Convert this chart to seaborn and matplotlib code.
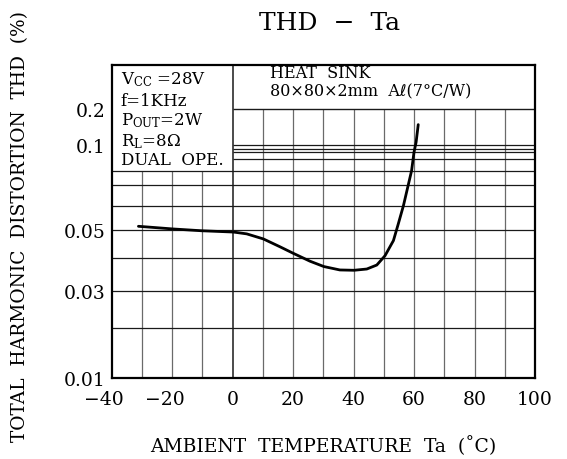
import numpy as np
import pandas as pd
import matplotlib
matplotlib.use("Agg")
import matplotlib.pyplot as plt
import matplotlib.transforms as mtransforms
import seaborn as sns

# ---------------- data ----------------
ta = [-31.1, -19.8, -10.2, 0.3, 4.7, 10.2, 15.7, 20.1, 25.6, 30.2, 35.5, 40.2,
      44.4, 47.7, 50.4, 53.2, 54.8, 56.5, 58.1, 59.2, 60.0, 60.7, 61.4]
thd = [0.0514, 0.0504, 0.0497, 0.0492, 0.0485, 0.0466, 0.0438, 0.0416, 0.0390,
       0.0372, 0.0361, 0.0360, 0.0364, 0.0377, 0.0408, 0.0460, 0.0523, 0.0599,
       0.0700, 0.0800, 0.0947, 0.1052, 0.1477]

x_ticks = [-40, -20, 0, 20, 40, 60, 80, 100]
x_tick_labels = ["\u221240", "\u221220", "0", "20", "40", "60", "80", "100"]
y_ticks = [0.01, 0.03, 0.05, 0.1, 0.2]
y_tick_labels = ["0.01", "0.03", "0.05", "0.1", "0.2"]

# grid lines of the printed chart sheet
grid_x_left = [-30, -20, -10]
grid_x_right = [10, 20, 30, 40, 50, 60, 70, 80, 90]
grid_y_full = [0.02, 0.03, 0.04, 0.05, 0.06, 0.07, 0.08]
grid_y_right = [0.09, 0.095, 0.097, 0.1]

# the scanned sheet's (non-uniform) vertical scale: value -> relative height
scale_vals = [0.01, 0.02, 0.03, 0.04, 0.05, 0.06, 0.07, 0.08, 0.09, 0.1, 0.2, 0.3]
scale_h = [0, 50, 87, 119.7, 148, 172.5, 193, 207.3, 218.7, 233.3, 269, 313.5]

cond_lines = ["V$_{\\mathrm{CC}}$ =28V", "f=1KHz", "P$_{\\mathrm{OUT}}$=2W",
              "R$_{\\mathrm{L}}$=8\u03a9", "DUAL  OPE."]
heat_lines = ["HEAT  SINK", "80\u00d780\u00d72mm  A\u2113(7\u00b0C/W)"]

# ---------------- style ----------------
sns.set_theme(style="white")
plt.rcParams["font.family"] = ["DejaVu Serif", "DejaVu Sans"]
plt.rcParams["mathtext.fontset"] = "dejavuserif"

log_knots = np.log10(scale_vals)


def fwd(v):
    v = np.clip(np.asarray(v, dtype=float), 1e-6, None)
    return np.interp(np.log10(v), log_knots, scale_h)


def inv(h):
    return 10 ** np.interp(np.asarray(h, dtype=float), scale_h, log_knots)


W, H = 567, 460
fig = plt.figure(figsize=(W / 100, H / 100), dpi=100)
L, R, B, T = 111.5, 535, 379, 65.5
ax = fig.add_axes([L / W, 1 - B / H, (R - L) / W, (B - T) / H])
ax.set_yscale("function", functions=(fwd, inv))
ax.set_xlim(-40, 100)
ax.set_ylim(0.01, 0.3)

vcol = "#6a6a6a"
hcol = "#1a1a1a"
ax.vlines(grid_x_left, 0.01, 0.08, colors=vcol, lw=0.9, zorder=1)
ax.vlines(grid_x_right, 0.01, 0.2, colors=vcol, lw=0.9, zorder=1)
ax.vlines([0], 0.01, 0.3, colors=hcol, lw=1.1, zorder=1)
ax.hlines(grid_y_full, -40, 100, colors=hcol, lw=0.9, zorder=1)
ax.hlines(grid_y_right, 0, 100, colors=hcol, lw=0.9, zorder=1)
ax.hlines([0.2], 0, 100, colors=hcol, lw=1.0, zorder=1)

df = pd.DataFrame({"Ta": ta, "THD": thd})
sns.lineplot(data=df, x="Ta", y="THD", ax=ax, color="black", lw=2.0,
             sort=False, zorder=3)

for s in ax.spines.values():
    s.set_color("black")
    s.set_linewidth(1.6)

ax.set_xticks(x_ticks)
ax.set_xticklabels(x_tick_labels)
ax.set_yticks(y_ticks)
ax.set_yticklabels(y_tick_labels)
ax.minorticks_off()
ax.tick_params(axis="both", length=0, labelsize=13.5, colors="black")
ax.tick_params(axis="x", pad=9)
ax.tick_params(axis="y", pad=4)
shift = mtransforms.ScaledTranslation(-7.5 / 100, 0, fig.dpi_scale_trans)
for lab in ax.get_xticklabels():
    if lab.get_text().startswith("\u2212"):
        lab.set_transform(lab.get_transform() + shift)

ax.set_xlabel("AMBIENT  TEMPERATURE  Ta  (\u02daC)", fontsize=13.5, color="black")
ax.xaxis.set_label_coords(0.5, -(446 - B) / (B - T))
ax.xaxis.label.set_va("center")
ax.set_ylabel("TOTAL  HARMONIC  DISTORTION  THD  (%)", fontsize=13.4, color="black")
ax.yaxis.set_label_coords((20 - L) / (R - L), (B - 226) / (B - T))
ax.yaxis.label.set_va("center")

fig.text(330 / W, 1 - 24 / H, "THD  \u2212  Ta", fontsize=18, ha="center",
         va="center", color="black")

# condition box texts
ys = [80, 101.7, 120.5, 141.5, 160.7]
for t, yy in zip(cond_lines, ys):
    ax.text(-37.0, inv(B - yy), t, fontsize=12, ha="left", va="center",
            color="black", zorder=4)
hy = [73.3, 91.7]
for t, yy in zip(heat_lines, hy):
    ax.text(12.3, inv(B - yy), t, fontsize=11.5, ha="left", va="center",
            color="black", zorder=4)

fig.savefig("out.png", dpi=100, facecolor="white")
